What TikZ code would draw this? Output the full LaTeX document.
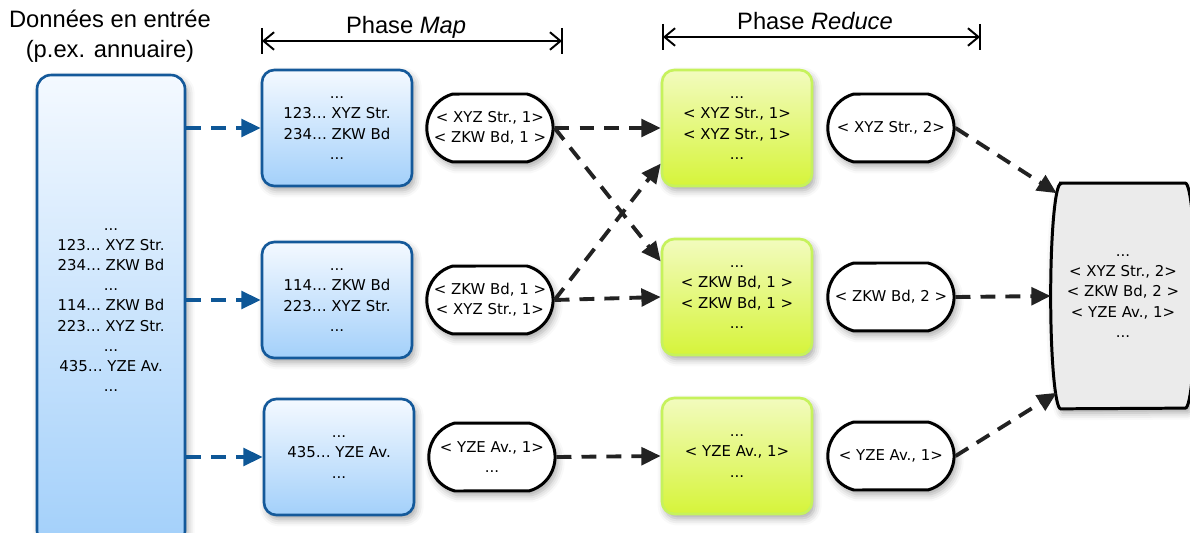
\documentclass[tikz,border=0pt]{standalone}
\usepackage{fontspec}
\setmainfont{DejaVu Sans}
\newfontfamily\titlefont{Liberation Sans}
\usetikzlibrary{positioning, shapes.misc, arrows.meta, shadows.blur, backgrounds}

\definecolor{mapborder}{HTML}{14599A}
\definecolor{maptop}{HTML}{F4F9FF}
\definecolor{mapbottom}{HTML}{A3D0FA}
\definecolor{redborder}{HTML}{C6F25C}
\definecolor{redtop}{HTML}{F2FBBE}
\definecolor{redbottom}{HTML}{D6F43A}
\definecolor{arrowblue}{HTML}{0E5797}
\definecolor{arrowdark}{HTML}{222222}
\definecolor{fingray}{HTML}{EBEBEB}

\begin{document}
\begin{tikzpicture}[x=0.02cm, y=-0.02cm,
 font=\fontsize{8.5}{11.5}\selectfont,
 soft shadow/.style={blur shadow={shadow xshift=1.5pt, shadow yshift=-2.5pt,
   shadow blur radius=4pt, shadow opacity=35}},
 map node/.style={rectangle, rounded corners=7pt, draw=mapborder, line width=1.5pt,
   top color=maptop, bottom color=mapbottom, align=center,
   minimum width=3cm, minimum height=2.32cm, soft shadow},
 reduce node/.style={map node, draw=redborder, top color=redtop, bottom color=redbottom},
 pair node/.style={rounded rectangle, rounded rectangle arc length=150, draw=black,
   line width=1.7pt, fill=white, align=center, minimum width=2.76cm,
   minimum height=1.36cm, soft shadow},
 title node/.style={font=\titlefont\fontsize{13.5}{17}\selectfont, align=center},
 flow/.style={-{Triangle[length=11pt,width=10pt]}, line width=2.2pt,
   dash pattern=on 8.5pt off 5.7pt, arrowdark},
 in flow/.style={flow, arrowblue},
 phase/.style={{Straight Barb[length=6pt,width=10pt]}-{Straight Barb[length=6pt,width=10pt]},
   line width=1.1pt}]
  \useasboundingbox (0,0) rectangle (1190,533);

  \node[title node] (titre) at (110,36) {Données en entrée\\(p.ex. annuaire)};
  \node[map node, minimum width=2.96cm, minimum height=9.4cm, rounded corners=8pt]
    (input) at (111,310) {...\\123… XYZ Str.\\234… ZKW Bd\\...\\114… ZKW Bd\\223… XYZ Str.\\...\\435… YZE Av.\\...};

  % phase Map
  \node[map node] (map1) at (337,128) {...\\123… XYZ Str.\\234… ZKW Bd\\...};
  \node[map node] (map2) at (337,300) {...\\114… ZKW Bd\\223… XYZ Str.\\...};
  \node[map node] (map3) at (339,457) {...\\435… YZE Av.\\...};
  \node[pair node] (mout1) [right=0.24cm of map1] {< XYZ Str., 1>\\< ZKW Bd, 1 >};
  \node[pair node] (mout2) [right=0.24cm of map2] {< ZKW Bd, 1 >\\< XYZ Str., 1>};
  \node[pair node] (mout3) [right=0.24cm of map3] {< YZE Av., 1>\\...};

  % phase Reduce
  \node[reduce node] (red1) at (737,128) {...\\< XYZ Str., 1>\\< XYZ Str., 1>\\...};
  \node[reduce node] (red2) at (737,297) {...\\< ZKW Bd, 1 >\\< ZKW Bd, 1 >\\...};
  \node[reduce node] (red3) at (737,456) {...\\< YZE Av., 1>\\...};
  \node[pair node] (rout1) [right=0.26cm of red1] {< XYZ Str., 2>};
  \node[pair node] (rout2) [right=0.26cm of red2] {< ZKW Bd, 2 >};
  \node[pair node] (rout3) [right=0.26cm of red3] {< YZE Av., 1>};

  \node[align=center, minimum width=2.2cm, minimum height=4.5cm] (fin) at (1123,296)
    {...\\< XYZ Str., 2>\\< ZKW Bd, 2 >\\< YZE Av., 1>\\...};
  \begin{scope}[on background layer]
    \draw[line width=1.7pt, fill=fingray, soft shadow]
      (fin.north west) -- (fin.north east)
      arc[start angle=90, end angle=-90, x radius=0.2cm, y radius=2.25cm]
      -- (fin.south west)
      arc[start angle=270, end angle=90, x radius=0.2cm, y radius=2.25cm] -- cycle;
  \end{scope}
  \coordinate (fin1) at ([shift={(-4,10)}]fin.north west);
  \coordinate (fin2) at ([shift={(-10,0)}]fin.west);
  \coordinate (fin3) at ([shift={(-4,-16)}]fin.south west);

  \coordinate (mapL) at (262,41);
  \coordinate (mapR) at (562,41);
  \coordinate (redL) at (663,37);
  \coordinate (redR) at (980,37);
  \node[title node] (phmap) at (406,27) {Phase \textit{Map}};
  \node[title node] (phred) at (815,21) {Phase \textit{Reduce}};
  \draw[phase] (mapL) -- (mapR);
  \draw[phase] (redL) -- (redR);
  \foreach \c in {mapL, mapR, redL, redR}
    \draw[line width=1.1pt] ([shift={(0,-13)}]\c) -- ([shift={(0,13)}]\c);

  \foreach \m in {map1, map2, map3}
    \draw[in flow] (input.east |- \m) -- (\m);
  \foreach \s/\t in {mout1/red1.west, mout1/red2.155, mout2/red1.205, mout2/red2.west,
      mout3/red3.west, rout1/fin1, rout2/fin2, rout3/fin3}
    \draw[flow] (\s.east) -- (\t);
\end{tikzpicture}
\end{document}
